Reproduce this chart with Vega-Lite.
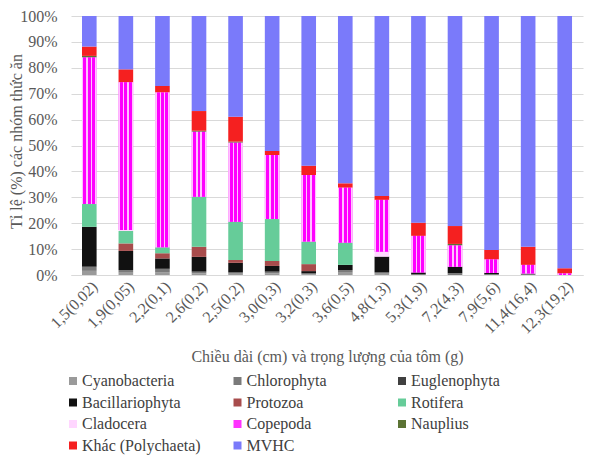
{
  "$schema": "https://vega.github.io/schema/vega-lite/v6.json",
  "width": 512,
  "height": 259,
  "autosize": "none",
  "padding": {"left": 71, "top": 16, "right": 17, "bottom": 201},
  "background": "white",
  "config": {
    "font": "Liberation Serif",
    "view": {"stroke": null},
    "axis": {"labelFont": "Liberation Serif", "titleFont": "Liberation Serif", "labelColor": "#595959", "titleColor": "#595959", "titleFontWeight": "normal"},
    "legend": {"labelFont": "Liberation Serif"}
  },
  "data": {
    "values": [
      {"size": "1,5(0,02)", "group": "Cyanobacteria", "pct": 1.6},
      {"size": "1,5(0,02)", "group": "Chlorophyta", "pct": 1.6},
      {"size": "1,5(0,02)", "group": "Bacillariophyta", "pct": 15.4},
      {"size": "1,5(0,02)", "group": "Rotifera", "pct": 8.8},
      {"size": "1,5(0,02)", "group": "Copepoda", "pct": 56.6},
      {"size": "1,5(0,02)", "group": "Nauplius", "pct": 0.6},
      {"size": "1,5(0,02)", "group": "Khác (Polychaeta)", "pct": 3.6},
      {"size": "1,5(0,02)", "group": "MVHC", "pct": 11.8},

      {"size": "1,9(0,05)", "group": "Cyanobacteria", "pct": 0.9},
      {"size": "1,9(0,05)", "group": "Chlorophyta", "pct": 1.0},
      {"size": "1,9(0,05)", "group": "Bacillariophyta", "pct": 7.4},
      {"size": "1,9(0,05)", "group": "Protozoa", "pct": 2.9},
      {"size": "1,9(0,05)", "group": "Rotifera", "pct": 4.8},
      {"size": "1,9(0,05)", "group": "Cladocera", "pct": 0.4},
      {"size": "1,9(0,05)", "group": "Copepoda", "pct": 57.0},
      {"size": "1,9(0,05)", "group": "Khác (Polychaeta)", "pct": 5.0},
      {"size": "1,9(0,05)", "group": "MVHC", "pct": 20.6},

      {"size": "2,2(0,1)", "group": "Cyanobacteria", "pct": 1.1},
      {"size": "2,2(0,1)", "group": "Chlorophyta", "pct": 1.3},
      {"size": "2,2(0,1)", "group": "Bacillariophyta", "pct": 4.0},
      {"size": "2,2(0,1)", "group": "Protozoa", "pct": 2.0},
      {"size": "2,2(0,1)", "group": "Rotifera", "pct": 2.3},
      {"size": "2,2(0,1)", "group": "Copepoda", "pct": 59.8},
      {"size": "2,2(0,1)", "group": "Khác (Polychaeta)", "pct": 2.5},
      {"size": "2,2(0,1)", "group": "MVHC", "pct": 27.0},

      {"size": "2,6(0,2)", "group": "Cyanobacteria", "pct": 0.6},
      {"size": "2,6(0,2)", "group": "Chlorophyta", "pct": 0.7},
      {"size": "2,6(0,2)", "group": "Bacillariophyta", "pct": 5.7},
      {"size": "2,6(0,2)", "group": "Protozoa", "pct": 3.9},
      {"size": "2,6(0,2)", "group": "Rotifera", "pct": 19.3},
      {"size": "2,6(0,2)", "group": "Copepoda", "pct": 25.1},
      {"size": "2,6(0,2)", "group": "Nauplius", "pct": 0.4},
      {"size": "2,6(0,2)", "group": "Khác (Polychaeta)", "pct": 7.6},
      {"size": "2,6(0,2)", "group": "MVHC", "pct": 36.7},

      {"size": "2,5(0,2)", "group": "Cyanobacteria", "pct": 0.5},
      {"size": "2,5(0,2)", "group": "Chlorophyta", "pct": 0.5},
      {"size": "2,5(0,2)", "group": "Bacillariophyta", "pct": 3.7},
      {"size": "2,5(0,2)", "group": "Protozoa", "pct": 1.1},
      {"size": "2,5(0,2)", "group": "Rotifera", "pct": 14.8},
      {"size": "2,5(0,2)", "group": "Copepoda", "pct": 30.5},
      {"size": "2,5(0,2)", "group": "Nauplius", "pct": 0.4},
      {"size": "2,5(0,2)", "group": "Khác (Polychaeta)", "pct": 9.6},
      {"size": "2,5(0,2)", "group": "MVHC", "pct": 38.9},

      {"size": "3,0(0,3)", "group": "Cyanobacteria", "pct": 0.6},
      {"size": "3,0(0,3)", "group": "Chlorophyta", "pct": 0.7},
      {"size": "3,0(0,3)", "group": "Bacillariophyta", "pct": 2.2},
      {"size": "3,0(0,3)", "group": "Protozoa", "pct": 1.9},
      {"size": "3,0(0,3)", "group": "Rotifera", "pct": 16.2},
      {"size": "3,0(0,3)", "group": "Copepoda", "pct": 24.7},
      {"size": "3,0(0,3)", "group": "Khác (Polychaeta)", "pct": 1.6},
      {"size": "3,0(0,3)", "group": "MVHC", "pct": 52.1},

      {"size": "3,2(0,3)", "group": "Cyanobacteria", "pct": 0.3},
      {"size": "3,2(0,3)", "group": "Chlorophyta", "pct": 0.35},
      {"size": "3,2(0,3)", "group": "Bacillariophyta", "pct": 0.85},
      {"size": "3,2(0,3)", "group": "Protozoa", "pct": 2.7},
      {"size": "3,2(0,3)", "group": "Rotifera", "pct": 8.7},
      {"size": "3,2(0,3)", "group": "Copepoda", "pct": 25.7},
      {"size": "3,2(0,3)", "group": "Khác (Polychaeta)", "pct": 3.6},
      {"size": "3,2(0,3)", "group": "MVHC", "pct": 57.8},

      {"size": "3,6(0,5)", "group": "Cyanobacteria", "pct": 0.9},
      {"size": "3,6(0,5)", "group": "Chlorophyta", "pct": 1.0},
      {"size": "3,6(0,5)", "group": "Bacillariophyta", "pct": 2.0},
      {"size": "3,6(0,5)", "group": "Rotifera", "pct": 8.6},
      {"size": "3,6(0,5)", "group": "Copepoda", "pct": 21.2},
      {"size": "3,6(0,5)", "group": "Khác (Polychaeta)", "pct": 1.7},
      {"size": "3,6(0,5)", "group": "MVHC", "pct": 64.6},

      {"size": "4,8(1,3)", "group": "Cyanobacteria", "pct": 0.5},
      {"size": "4,8(1,3)", "group": "Chlorophyta", "pct": 0.5},
      {"size": "4,8(1,3)", "group": "Bacillariophyta", "pct": 6.1},
      {"size": "4,8(1,3)", "group": "Cladocera", "pct": 1.9},
      {"size": "4,8(1,3)", "group": "Copepoda", "pct": 20.0},
      {"size": "4,8(1,3)", "group": "Khác (Polychaeta)", "pct": 1.5},
      {"size": "4,8(1,3)", "group": "MVHC", "pct": 69.5},

      {"size": "5,3(1,9)", "group": "Chlorophyta", "pct": 0.3},
      {"size": "5,3(1,9)", "group": "Bacillariophyta", "pct": 0.7},
      {"size": "5,3(1,9)", "group": "Copepoda", "pct": 14.1},
      {"size": "5,3(1,9)", "group": "Khác (Polychaeta)", "pct": 5.1},
      {"size": "5,3(1,9)", "group": "MVHC", "pct": 79.8},

      {"size": "7,2(4,3)", "group": "Chlorophyta", "pct": 0.7},
      {"size": "7,2(4,3)", "group": "Bacillariophyta", "pct": 2.5},
      {"size": "7,2(4,3)", "group": "Copepoda", "pct": 8.2},
      {"size": "7,2(4,3)", "group": "Nauplius", "pct": 0.6},
      {"size": "7,2(4,3)", "group": "Khác (Polychaeta)", "pct": 6.9},
      {"size": "7,2(4,3)", "group": "MVHC", "pct": 81.1},

      {"size": "7,9(5,6)", "group": "Chlorophyta", "pct": 0.3},
      {"size": "7,9(5,6)", "group": "Bacillariophyta", "pct": 0.5},
      {"size": "7,9(5,6)", "group": "Copepoda", "pct": 5.2},
      {"size": "7,9(5,6)", "group": "Khác (Polychaeta)", "pct": 3.7},
      {"size": "7,9(5,6)", "group": "MVHC", "pct": 90.3},

      {"size": "11,4(16,4)", "group": "Chlorophyta", "pct": 0.6},
      {"size": "11,4(16,4)", "group": "Copepoda", "pct": 3.3},
      {"size": "11,4(16,4)", "group": "Khác (Polychaeta)", "pct": 7.0},
      {"size": "11,4(16,4)", "group": "MVHC", "pct": 89.1},

      {"size": "12,3(19,2)", "group": "Copepoda", "pct": 0.6},
      {"size": "12,3(19,2)", "group": "Khác (Polychaeta)", "pct": 2.0},
      {"size": "12,3(19,2)", "group": "MVHC", "pct": 97.4}
    ]
  },
  "transform": [
    {"window": [{"op": "row_number", "as": "k"}], "groupby": ["size"]}
  ],
  "encoding": {
    "x": {
      "field": "size", "type": "nominal", "sort": null,
      "scale": {"paddingInner": 0.6, "paddingOuter": 0.3},
      "axis": {
        "title": "Chiều dài (cm) và trọng lượng của tôm (g)",
        "titleFontSize": 16, "titlePadding": 12,
        "labelAngle": -45, "labelFontSize": 16, "labelPadding": 3,
        "domain": true, "domainColor": "#d9d9d9", "ticks": false
      }
    },
    "y": {
      "field": "pct", "type": "quantitative", "stack": "normalize",
      "scale": {"domain": [0, 1]},
      "axis": {
        "title": "Tỉ lệ (%)  các nhóm thức ăn",
        "titleFontSize": 16, "titleX": -55, "titleY": 125, "titleBaseline": "middle",
        "format": ".0%", "values": [0, 0.1, 0.2, 0.3, 0.4, 0.5, 0.6, 0.7, 0.8, 0.9, 1],
        "labelFontSize": 16, "labelPadding": 14,
        "domain": false, "ticks": false,
        "grid": true, "gridColor": "#d9d9d9"
      }
    },
    "order": {"field": "k", "type": "quantitative", "sort": "ascending"}
  },
  "layer": [
    {
      "mark": {"type": "bar"},
      "encoding": {
        "color": {
          "field": "group", "type": "nominal",
          "scale": {
            "domain": ["Cyanobacteria", "Chlorophyta", "Euglenophyta", "Bacillariophyta", "Protozoa", "Rotifera", "Cladocera", "Copepoda", "Nauplius", "Khác (Polychaeta)", "MVHC"],
            "range": ["#9a9a9a", "#7a7a7a", "#404040", "#111111", "#a84c4c", "#66cc99", "#ffd6ff", "#ff33ff", "#5b7334", "#f52020", "#7a7afa"]
          },
          "legend": {
            "title": null, "orient": "none", "legendX": -6, "legendY": 357,
            "direction": "horizontal", "columns": 3, "gridAlign": "all",
            "columnPadding": 28.5, "rowPadding": 5.5, "padding": 0,
            "symbolType": "square", "symbolSize": 64, "symbolStrokeWidth": 0,
            "labelFontSize": 16, "labelColor": "#404040", "labelOffset": 1, "labelLimit": 300
          }
        }
      }
    },
    {
      "mark": {"type": "bar"},
      "encoding": {
        "fill": {
          "field": "group", "type": "nominal",
          "legend": null,
          "condition": {
            "test": "datum.group === 'Copepoda'",
            "value": {
              "gradient": "linear", "x1": 0, "y1": 0, "x2": 1, "y2": 0,
              "stops": [
                {"offset": 0, "color": "#ffc2ff"}, {"offset": 0.1, "color": "#ffc2ff"},
                {"offset": 0.1, "color": "#ff00ff"}, {"offset": 0.3, "color": "#ff00ff"},
                {"offset": 0.3, "color": "#ffc2ff"}, {"offset": 0.4, "color": "#ffc2ff"},
                {"offset": 0.4, "color": "#ff00ff"}, {"offset": 0.6, "color": "#ff00ff"},
                {"offset": 0.6, "color": "#ffc2ff"}, {"offset": 0.7, "color": "#ffc2ff"},
                {"offset": 0.7, "color": "#ff00ff"}, {"offset": 0.9, "color": "#ff00ff"},
                {"offset": 0.9, "color": "#ffc2ff"}, {"offset": 1, "color": "#ffc2ff"}
              ]
            }
          }
        },
        "fillOpacity": {
          "condition": {"test": "datum.group === 'Copepoda'", "value": 1},
          "value": 0
        }
      }
    }
  ]
}
